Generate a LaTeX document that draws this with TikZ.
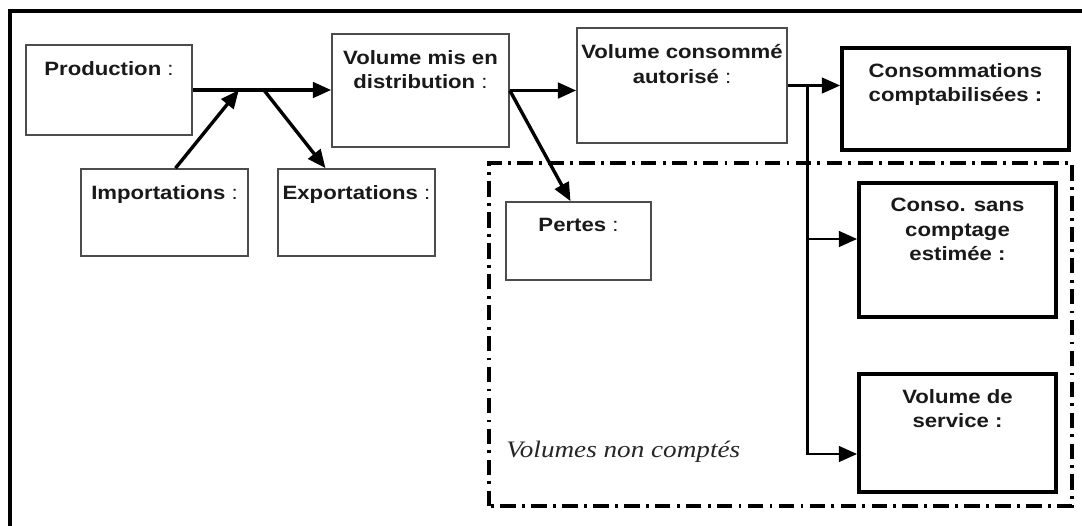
\documentclass[tikz,border=0pt]{standalone}
\usepackage{fontspec}
\setmainfont{Liberation Sans}[FakeStretch=1.15]
\newfontfamily\notefont{Liberation Serif}[FakeStretch=1.15]
\usetikzlibrary{arrows.meta,calc,positioning}

\begin{document}
\begin{tikzpicture}[x=0.025cm, y=-0.025cm,
  thinbox/.style={draw=black!70, line width=1.2pt, fill=white, inner sep=0pt},
  thickbox/.style={draw=black, line width=2.6pt, fill=white, inner sep=0pt},
  boxtext/.style={anchor=north, inner sep=0pt, align=center, text=black!90,
                  font=\fontsize{13.7}{17.4}\selectfont},
  flow/.style={line width=2.4pt, -{Triangle[length=13pt,width=11pt]}},
  thinflow/.style={line width=2pt, -{Triangle[length=13pt,width=11pt]}},
  zone/.style={line width=2.6pt, dash pattern=on 11pt off 4.5pt on 2pt off 4.5pt}]
  % Define dimensions
  \def\px{0.025cm}
  \def\TxtDrop{17}
  % Page and outer frame
  \useasboundingbox (0,0) rectangle (1082,525);
  \fill[white] (0,0) rectangle (1082,525);
  \clip (0,0) rectangle (1082,525);
  \draw[line width=3pt] (10,540) -- (10,11) -- (1100,11);

  % Zone of uncounted volumes
  \draw[zone] (489,506) -- (489,163) -- (1072,163) -- (1072,506) -- cycle;
  \node[anchor=west, inner sep=0pt, text=black!85,
        font=\notefont\itshape\fontsize{16.8}{20}\selectfont] (note) at (506,452) {Volumes non comptés};

  % Define boxes
  \node[thinbox, minimum width=166*\px, minimum height=90*\px] (prod) at (109,90) {};
  \node[thinbox, minimum width=167*\px, minimum height=87*\px] (imp) at (164.5,212.5) {};
  \node[thinbox, minimum width=157*\px, minimum height=87*\px] (exp) at (356.5,212.5) {};
  \node[thinbox, minimum width=177*\px, minimum height=113*\px] (dist) at (420.5,90.5) {};
  \node[thinbox, minimum width=210*\px, minimum height=115*\px] (auto) at (682,85.5) {};
  \node[thinbox, minimum width=145*\px, minimum height=78*\px] (pertes) at (578.5,241) {};
  \node[thickbox, minimum width=227*\px, minimum height=102*\px] (compta) at (955.5,99) {};
  \node[thickbox, minimum width=197*\px, minimum height=134*\px] (sans) at (957.5,250) {};
  \node[thickbox, minimum width=197*\px, minimum height=118*\px] (serv) at (957.5,433) {};

  % Label boxes
  \node[boxtext] (prodtxt) at ($(prod.north)+(0,\TxtDrop)$) {\textbf{Production} :};
  \node[boxtext] (imptxt) at ($(imp.north)+(0,\TxtDrop)$) {\textbf{Importations} :};
  \node[boxtext] (exptxt) at ($(exp.north)+(0,\TxtDrop)$) {\textbf{Exportations} :};
  \node[boxtext] (disttxt) at ($(dist.north)+(0,\TxtDrop)$) {\textbf{Volume mis en}\\\textbf{distribution} :};
  \node[boxtext] (autotxt) at ($(auto.north)+(0,\TxtDrop)$) {\textbf{Volume consommé}\\\textbf{autorisé} :};
  \node[boxtext] (pertestxt) at ($(pertes.north)+(0,\TxtDrop)$) {\textbf{Pertes} :};
  \node[boxtext, font=\bfseries\fontsize{13.7}{17.4}\selectfont] (comptatxt) at ($(compta.north)+(0,\TxtDrop)$) {Consommations\\comptabilisées :};
  \node[boxtext, font=\bfseries\fontsize{13.7}{17.4}\selectfont] (sanstxt) at ($(sans.north)+(0,\TxtDrop)$) {Conso. sans\\comptage\\estimée :};
  \node[boxtext, font=\bfseries\fontsize{13.7}{17.4}\selectfont] (servtxt) at ($(serv.north)+(0,\TxtDrop)$) {Volume de\\service :};

  % Define points
  \coordinate (jimp) at ($(prod.east)+(46,0)$);
  \coordinate (jexp) at ($(prod.east)+(71,0)$);
  \coordinate (bus) at ($(auto.east)+(20,0)$);

  % Draw arrows
  \draw[flow] (prod.east) -- (prod.east -| dist.west);
  \draw[flow] ($(imp.north)+(11,0)$) -- (jimp);
  \draw[flow] (jexp) -- ($(exp.north)+(-31,0)$);
  \draw[flow] (dist.east) -- (dist.east -| auto.west);
  \draw[flow] (dist.east) -- ($(pertes.north)+(-8,0)$);
  \draw[thinflow] (auto.east) -- (auto.east -| compta.west);
  \draw[thinflow] (bus) |- ($(serv.west)+(0,21)$);
  \draw[thinflow] (bus |- sans.west) ++(0,-11) -- ($(sans.west)+(0,-11)$);

\end{tikzpicture}
\end{document}
